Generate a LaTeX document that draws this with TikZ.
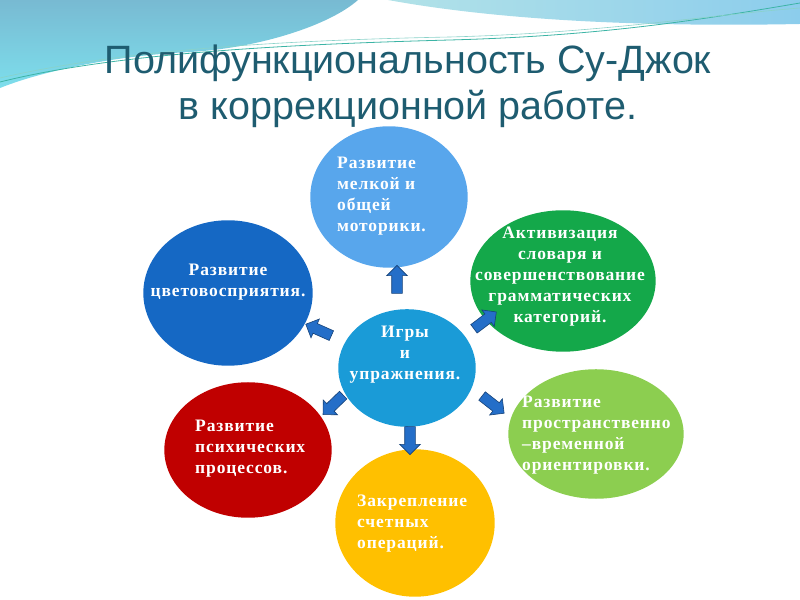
\documentclass[tikz,border=0pt]{standalone}
\usepackage{fontspec}
\setmainfont{Liberation Serif}
\newfontfamily\titlefont{Liberation Sans}
\newfontfamily\krugfont[LetterSpace=5]{Liberation Serif}
\usetikzlibrary{shapes.geometric,shapes.arrows,calc}
\definecolor{titleteal}{RGB}{30,92,112}
\definecolor{igryblue}{RGB}{26,155,215}
\definecolor{motorblue}{RGB}{88,166,236}
\definecolor{colorblue}{RGB}{21,104,196}
\definecolor{slovgreen}{RGB}{20,168,74}
\definecolor{prostgreen}{RGB}{140,206,80}
\definecolor{psyred}{RGB}{192,0,0}
\definecolor{schetyellow}{RGB}{255,192,0}
\definecolor{arrowblue}{RGB}{36,110,200}
\definecolor{wavetop}{RGB}{120,186,210}
\definecolor{wavelow}{RGB}{125,222,236}
\definecolor{waverA}{RGB}{178,226,232}
\definecolor{waverB}{RGB}{140,205,236}
\definecolor{waveline}{RGB}{60,180,165}
\tikzset{
  krug/.style     ={ellipse, inner sep=0pt, draw=none},
  krugtext/.style ={text=white, inner sep=0pt,
                    font=\krugfont\bfseries\fontsize{17.5bp}{21bp}\selectfont},
  strelka/.style  ={single arrow, fill=arrowblue, draw=arrowblue!60!black,
                    line width=0.6bp, minimum height=28bp, inner xsep=0pt,
                    inner ysep=5bp, single arrow head extend=5bp},
}

\begin{document}
\begin{tikzpicture}[x=1bp,y=1bp]
  \useasboundingbox (0,0) rectangle (800,600);
  % фон: волна сверху
  \shade[top color=wavetop, bottom color=wavelow]
    (0,600) -- (358,600) .. controls (330,575) and (260,552) .. (190,548)
    .. controls (110,544) and (40,528) .. (0,512) -- cycle;
  \shade[left color=waverA, right color=waverB]
    (388,600) .. controls (470,585) and (600,572) .. (800,576) -- (800,600) -- cycle;
  \draw[waveline, line width=0.8bp]
    (0,518) .. controls (120,548) and (300,556) .. (450,560) .. controls (600,564) and (700,580) .. (800,597);
  \draw[waveline!60, line width=0.6bp]
    (0,522) .. controls (130,552) and (300,560) .. (450,563) .. controls (600,567) and (700,584) .. (800,592);

  % заголовок
  \node[text=titleteal, font=\titlefont\fontsize{39.5bp}{46bp}\selectfont, align=center]
    (title) at (408,514) {Полифункциональность Су-Джок\\в коррекционной работе.};

  % круги
  \node[krug, fill=motorblue,   minimum width=158, minimum height=142] (motor)  at (389,403) {};
  \node[krug, fill=colorblue,   minimum width=170, minimum height=146] (color)  at (228,307) {};
  \node[krug, fill=slovgreen,   minimum width=186, minimum height=142] (slovar) at (563,319) {};
  \node[krug, fill=prostgreen,  minimum width=176, minimum height=130] (prost)  at (596,166) {};
  \node[krug, fill=psyred,      minimum width=168, minimum height=136] (psy)    at (248,150) {};
  \node[krug, fill=schetyellow, minimum width=160, minimum height=148] (schet)  at (415,77)  {};
  \node[krug, fill=igryblue,    minimum width=138, minimum height=118] (igry)   at (407,232) {};

  % стрелки
  \node[strelka, rotate=90]   (toMotor)  at (397,318) {};
  \node[strelka, rotate=156]  (toColor)  at (321,269) {};
  \node[strelka, rotate=37]   (toSlovar) at (483,278) {};
  \node[strelka, rotate=-38]  (toProst)  at (491,197) {};
  \node[strelka, rotate=-90]  (toSchet)  at (410,162) {};
  \node[strelka, rotate=-136] (toPsy)    at (335,197) {};

  % тексты
  \node[krugtext, align=center] (igryT) at ($(igry)+(-2,13)$) {Игры\\и\\упражнения.};
  \node[krugtext, align=left, anchor=west] (motorT) at ($(motor)+(-52,1)$)
    {Развитие\\мелкой и\\общей\\моторики.};
  \node[krugtext, align=center] (colorT) at ($(color)+(0,11)$) {Развитие\\цветовосприятия.};
  \node[krugtext, align=center] (slovarT) at ($(slovar)+(-3,4)$)
    {Активизация\\словаря и\\совершенствование\\грамматических\\категорий.};
  \node[krugtext, align=left, anchor=west] (prostT) at ($(prost)+(-74,-1)$)
    {Развитие\\пространственно\\–временной\\ориентировки.};
  \node[krugtext, align=left, anchor=west] (psyT) at ($(psy)+(-53,1)$)
    {Развитие\\психических\\процессов.};
  \node[krugtext, align=left, anchor=west] (schetT) at ($(schet)+(-58,-1)$)
    {Закрепление\\счетных\\операций.};
\end{tikzpicture}
\end{document}
